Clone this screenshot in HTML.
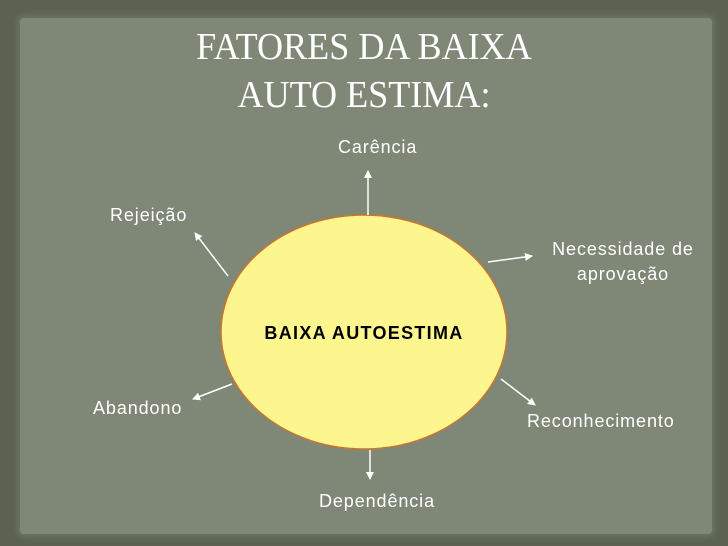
<!DOCTYPE html>
<html><head><meta charset="utf-8"><style>
html,body{margin:0;padding:0;}
body{width:728px;height:546px;overflow:hidden;background:#5b6350;position:relative;font-family:"Liberation Sans",sans-serif;}
.panel{position:absolute;left:20px;top:18px;width:692px;height:516px;background:#7f8777;border-radius:4px;box-shadow:0 0 6px 3px #6c7462;}
.t{position:absolute;left:0;width:728px;text-align:center;color:#fff;font-family:"Liberation Serif",serif;font-size:38px;transform:scaleX(0.95);}
.l{position:absolute;color:#fff;font-size:18px;letter-spacing:0.9px;text-align:center;white-space:nowrap;}
</style></head><body>
<div class="panel"></div>
<div class="t" style="top:25px">FATORES DA BAIXA</div>
<div class="t" style="top:73px">AUTO ESTIMA:</div>
<svg width="728" height="546" style="position:absolute;left:0;top:0">
<defs><marker id="a" markerWidth="8" markerHeight="8" refX="7" refY="4" orient="auto" markerUnits="userSpaceOnUse"><path d="M0,0 L8,4 L0,8 z" fill="#fff"/></marker></defs>
<ellipse cx="364" cy="332" rx="143" ry="117" fill="#fdf68f" stroke="#c9752d" stroke-width="1.5"/>
<text x="364" y="339" text-anchor="middle" font-family="Liberation Sans" font-weight="bold" font-size="18" letter-spacing="1.3">BAIXA AUTOESTIMA</text>
<g stroke="#fff" stroke-width="1.5" marker-end="url(#a)">
<line x1="368" y1="215" x2="368" y2="171"/>
<line x1="228" y1="276" x2="195" y2="233"/>
<line x1="488" y1="262" x2="532" y2="256"/>
<line x1="232" y1="384" x2="193" y2="399"/>
<line x1="501" y1="379" x2="535" y2="405"/>
<line x1="370" y1="450" x2="370" y2="479"/>
</g>
</svg>
<div class="l" style="left:338px;top:137px">Carência</div>
<div class="l" style="left:110px;top:205px">Rejeição</div>
<div class="l" style="left:546px;top:237px;line-height:25px;width:154px">Necessidade de<br>aprovação</div>
<div class="l" style="left:93px;top:398px">Abandono</div>
<div class="l" style="left:527px;top:411px">Reconhecimento</div>
<div class="l" style="left:319px;top:491px">Dependência</div>
</body></html>
